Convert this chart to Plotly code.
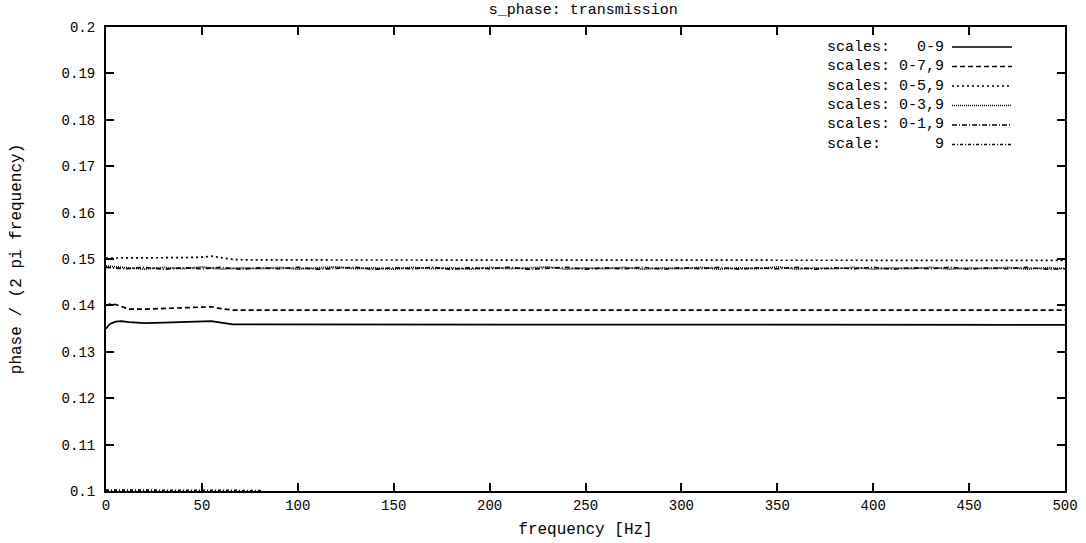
import plotly.graph_objects as go

# ---- data ----
freq_a = [0, 2, 5, 8, 12, 20, 30, 40, 50, 55, 60, 66, 75, 100, 150, 200, 250, 300, 350, 400, 450, 500]
s_0_9 = [0.1350, 0.1360, 0.1365, 0.1366, 0.1364, 0.1362, 0.1363, 0.1364, 0.1365, 0.1366, 0.1363, 0.1359,
         0.1359, 0.1359, 0.1358, 0.1358, 0.1358, 0.1358, 0.1358, 0.1358, 0.1358, 0.1358]
s_0_7_9 = [0.1400, 0.1403, 0.1402, 0.1398, 0.1392, 0.1392, 0.1393, 0.1394, 0.1395, 0.1397, 0.1393, 0.1390,
           0.1390, 0.1390, 0.1390, 0.1390, 0.1390, 0.1390, 0.1390, 0.1390, 0.1390, 0.1390]
s_0_5_9 = [0.1502, 0.1502, 0.1502, 0.1502, 0.1502, 0.1502, 0.1502, 0.1503, 0.1504, 0.1506, 0.1503, 0.1499,
           0.1498, 0.1498, 0.1498, 0.1498, 0.1498, 0.1498, 0.1498, 0.1498, 0.1498, 0.1497]

freq_b = [0, 10, 20, 30, 40, 50, 60, 70, 80, 90, 100, 110, 120, 130, 140, 150, 160, 170, 180, 190, 200,
          210, 220, 230, 240, 250, 260, 270, 280, 290, 300, 310, 320, 330, 340, 350, 360, 370, 380, 390,
          400, 410, 420, 430, 440, 450, 460, 470, 480, 490, 500]
s_0_3_9 = [0.1485, 0.1481, 0.1478, 0.1482, 0.1479, 0.1483, 0.1478, 0.1481, 0.1479, 0.1482, 0.1478,
           0.1481, 0.1483, 0.1479, 0.1481, 0.1478, 0.1482, 0.1479, 0.1481, 0.1478, 0.1482,
           0.1479, 0.1481, 0.1483, 0.1478, 0.1481, 0.1479, 0.1482, 0.1478, 0.1481, 0.1479,
           0.1482, 0.1478, 0.1481, 0.1479, 0.1483, 0.1478, 0.1481, 0.1479, 0.1482, 0.1478,
           0.1481, 0.1479, 0.1482, 0.1478, 0.1481, 0.1479, 0.1482, 0.1478, 0.1481, 0.1480]
s_0_1_9 = [0.1482, 0.1479, 0.1482, 0.1478, 0.1481, 0.1479, 0.1482, 0.1478, 0.1481, 0.1479, 0.1482,
           0.1478, 0.1480, 0.1482, 0.1478, 0.1481, 0.1479, 0.1482, 0.1478, 0.1481, 0.1479,
           0.1482, 0.1478, 0.1480, 0.1482, 0.1478, 0.1481, 0.1479, 0.1482, 0.1478, 0.1481,
           0.1479, 0.1482, 0.1478, 0.1481, 0.1479, 0.1482, 0.1478, 0.1481, 0.1479, 0.1482,
           0.1478, 0.1481, 0.1479, 0.1482, 0.1478, 0.1481, 0.1479, 0.1482, 0.1478, 0.1479]

freq_c = [0, 20, 40, 50, 60, 80, 85, 500]
s_9 = [0.1002, 0.1002, 0.1002, 0.1001, 0.1001, 0.1001, 0.0995, 0.0995]

x_ticks = [0, 50, 100, 150, 200, 250, 300, 350, 400, 450, 500]
y_ticks = [0.1, 0.11, 0.12, 0.13, 0.14, 0.15, 0.16, 0.17, 0.18, 0.19, 0.2]
y_tick_text = ["0.1", "0.11", "0.12", "0.13", "0.14", "0.15", "0.16", "0.17", "0.18", "0.19", "0.2"]

legend_labels = ["scales:   0-9", "scales: 0-7,9", "scales: 0-5,9", "scales: 0-3,9", "scales: 0-1,9", "scale:      9"]

# ---- styles ----
FONT = "Liberation Mono"
dashes = ["solid", "5px,3px", "2px,3px", "1px,1px", "5px,2px,1px,2px", "3px,2px,1px,2px"]
series = [(freq_a, s_0_9), (freq_a, s_0_7_9), (freq_a, s_0_5_9), (freq_b, s_0_3_9), (freq_b, s_0_1_9), (freq_c, s_9)]

fig = go.Figure()
for (xs, ys), d, lab in zip(series, dashes, legend_labels):
    fig.add_trace(go.Scatter(x=xs, y=ys, mode="lines", name=lab,
                             line=dict(color="black", width=1.7, dash=d), showlegend=False))

L, R, T, B = 106, 21, 27, 52
W, H = 1086, 543
pw, ph = W - L - R, H - T - B

def px_x(px):
    return (px - L) / pw

def px_y(py):
    return (H - B - py) / ph

rows = [47, 66.5, 86, 105.5, 125, 144.5]
for i, (lab, d) in enumerate(zip(legend_labels, dashes)):
    y = px_y(rows[i])
    fig.add_annotation(x=px_x(946), y=y, xref="paper", yref="paper", text=lab.replace(" ", "&nbsp;"),
                       showarrow=False, xanchor="right", yanchor="middle",
                       font=dict(family=FONT, size=15, color="black"))
    fig.add_shape(type="line", xref="paper", yref="paper", x0=px_x(952), x1=px_x(1012), y0=y, y1=y,
                  line=dict(color="black", width=1.6, dash=d))

axis_common = dict(showline=True, linecolor="black", linewidth=2, mirror="ticks", ticks="inside",
                   ticklen=8, tickwidth=1.5, tickcolor="black", showgrid=False, zeroline=False,
                   automargin=False, tickfont=dict(family=FONT, size=14, color="black"))

fig.update_xaxes(range=[0, 500], tickvals=x_ticks,
                 title=dict(text="frequency [Hz]", font=dict(family=FONT, size=16, color="black"), standoff=10),
                 **axis_common)
fig.update_yaxes(range=[0.1, 0.2], tickvals=y_ticks, ticktext=y_tick_text, ticklabelstandoff=6,
                 title=dict(text="phase / (2 pi frequency)", font=dict(family=FONT, size=16, color="black"), standoff=36),
                 **axis_common)

fig.update_layout(
    width=W, height=H,
    margin=dict(l=L, r=R, t=T, b=B),
    paper_bgcolor="white", plot_bgcolor="white",
    title=dict(text="s_phase: transmission", x=0.537, xanchor="center", yref="container", y=1 - 3 / H, yanchor="top",
               font=dict(family=FONT, size=15, color="black")),
    showlegend=False,
)

fig.write_html("out.html")
